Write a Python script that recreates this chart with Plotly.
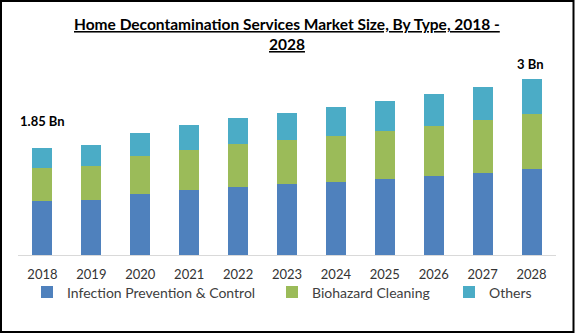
import plotly.graph_objects as go

years = ["2018", "2019", "2020", "2021", "2022", "2023", "2024", "2025", "2026", "2027", "2028"]
infection_prevention = [0.94, 0.95, 1.06, 1.13, 1.18, 1.23, 1.27, 1.32, 1.37, 1.42, 1.49]
biohazard_cleaning = [0.56, 0.59, 0.66, 0.69, 0.75, 0.76, 0.80, 0.83, 0.87, 0.92, 0.95]
others = [0.35, 0.36, 0.40, 0.43, 0.45, 0.47, 0.50, 0.52, 0.55, 0.57, 0.61]
series_names = ["Infection Prevention & Control", "Biohazard Cleaning", "Others"]
series_colors = ["#4F81BD", "#9BBB59", "#4BACC6"]
total_labels = {"2018": "1.85 Bn", "2028": "3 Bn"}
title_lines = ["Home Decontamination Services Market Size, By Type, 2018 -", "2028"]

FONT = "Lato"
W, H = 575, 333
ML, MR, MT, MB = 18, 19, 60, 78
PW, PH = W - ML - MR, H - MT - MB


def px_x(p):
    return (p - ML) / PW


def px_y(p):
    return (H - MB - p) / PH


legend_ids = ["legend", "legend2", "legend3"]
legend_text_x = [67, 312, 489]

fig = go.Figure()
for name, vals, col, lid in zip(series_names, [infection_prevention, biohazard_cleaning, others],
                                series_colors, legend_ids):
    fig.add_trace(go.Bar(x=years, y=vals, name=name, legend=lid,
                         marker=dict(color=col, line=dict(width=0)),
                         hoverinfo="x+y+name"))

totals = [a + b + c for a, b, c in zip(infection_prevention, biohazard_cleaning, others)]
annotations = []
label_shift = {"2018": 27, "2028": 15}
for yr, lab in total_labels.items():
    i = years.index(yr)
    annotations.append(dict(x=i, y=totals[i], xref="x", yref="y", text=f"<b>{lab}</b>",
                            showarrow=False, yanchor="middle", yshift=label_shift[yr],
                            xshift=-2 if i == len(years) - 1 else 0,
                            font=dict(family=FONT, size=13, color="#000000")))

# title lines
title_y_px = [23.5, 43.5]
for t, ypx in zip(title_lines, title_y_px):
    annotations.append(dict(x=0.5, xref="paper", y=px_y(ypx), yref="paper",
                            text=f"<b><u>{t}</u></b>", showarrow=False, xanchor="center", yanchor="middle",
                            font=dict(family=FONT, size=15.5, color="#000000")))

legend_common = dict(orientation="h", xanchor="left", y=px_y(292.5), yanchor="middle",
                     font=dict(family=FONT, size=14, color="#404040"), itemwidth=30,
                     bgcolor="rgba(0,0,0,0)")
legends = {}
for lid, tx in zip(legend_ids, legend_text_x):
    legends[lid] = dict(legend_common, x=px_x(tx - 40))

fig.update_layout(
    width=W, height=H,
    margin=dict(l=ML, r=MR, t=MT, b=MB),
    barmode="stack",
    bargap=0.59,
    paper_bgcolor="white", plot_bgcolor="white",
    showlegend=True,
    xaxis=dict(type="category", range=[-0.5, len(years) - 0.5], showline=True,
               linecolor="#D9D9D9", linewidth=1, ticks="", showgrid=False,
               ticklabelstandoff=7,
               tickfont=dict(family=FONT, size=13, color="#333333")),
    yaxis=dict(visible=False, range=[0, 3.38], showgrid=False),
    annotations=annotations,
    shapes=[dict(type="rect", xref="paper", yref="paper",
                 x0=px_x(1), x1=px_x(573.5), y0=px_y(332), y1=px_y(1),
                 line=dict(color="#000000", width=2), fillcolor="rgba(0,0,0,0)")],
    font=dict(family=FONT),
    **legends,
)

fig.write_html("out.html")
